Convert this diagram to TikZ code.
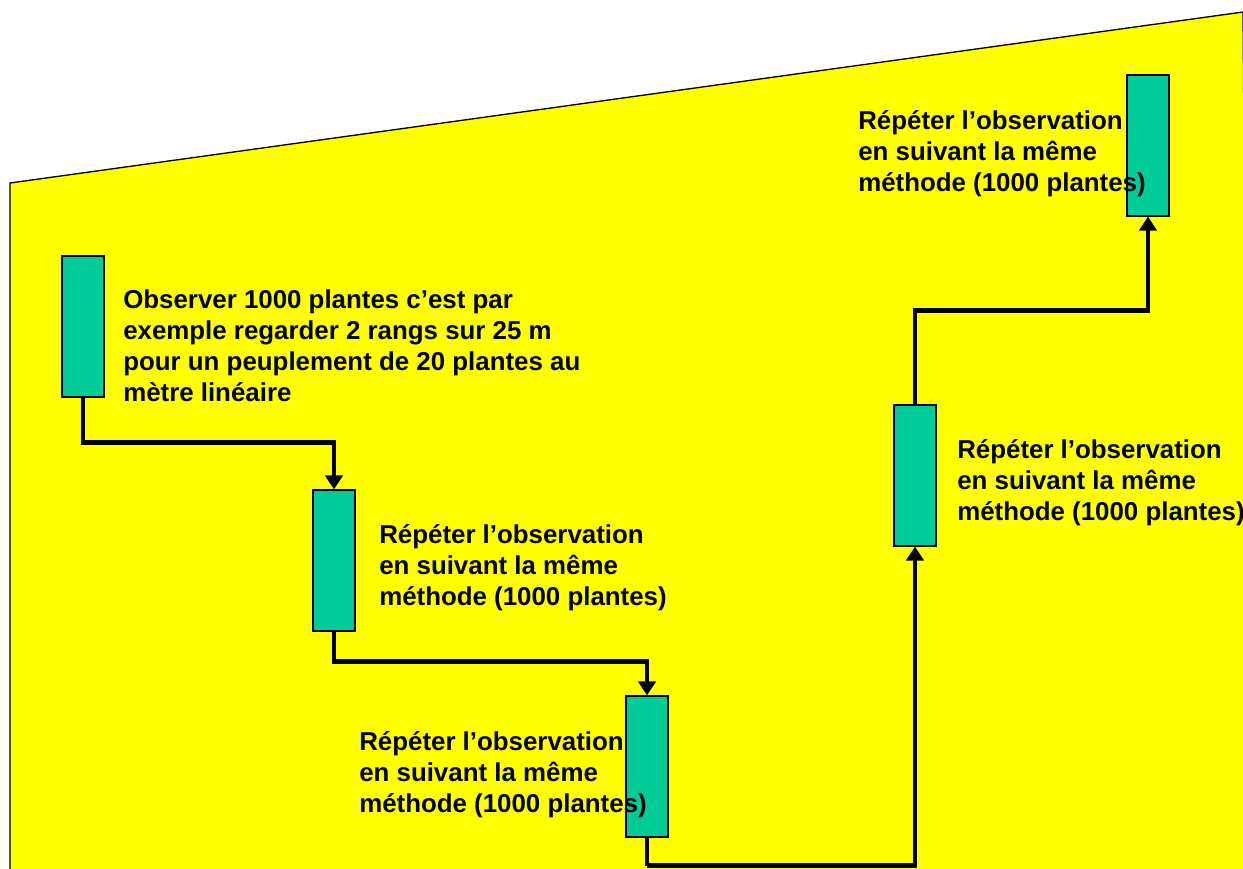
\documentclass[tikz,border=0pt]{standalone}
\usepackage{fontspec}
\setmainfont{Liberation Sans}
\usetikzlibrary{arrows.meta}
\definecolor{fondjaune}{RGB}{255,255,0}
\definecolor{vertbox}{RGB}{0,204,153}
\tikzset{
barre/.style={draw=black, line width=0.9pt, fill=vertbox, minimum width=31.5pt, minimum height=105.75pt, inner sep=0pt},
legende/.style={anchor=north west, inner sep=0pt, align=left, font=\bfseries\fontsize{19.4}{23.3}\selectfont},
fleche/.style={line width=3.4pt, -{Triangle[width=13pt,length=10.5pt]}},
lien/.style={line width=3.4pt}}

\begin{document}
\begin{tikzpicture}[x=0.75pt,y=0.75pt,yscale=-1,xscale=1]
\useasboundingbox (0,0) rectangle (1243,868);
\clip (0,0) rectangle (1243,868);

%Shape: Polygon (fond)
\draw [line width=1pt, fill=fondjaune] (10,183) -- (1243,12) -- (1250,880) -- (10,880) -- cycle ;

%Shape: Rectangles
\node [barre] (b1) at (83,326.5) {};
\node [barre] (b2) at (334,560.5) {};
\node [barre] (b3) at (647,766.5) {};
\node [barre] (b4) at (915,475.5) {};
\node [barre] (b5) at (1148,145.5) {};

%Connectors
\draw [fleche] (b1.south) -- ++(0,45) -| (b2.north) ;
\draw [fleche] (b2.south) -- ++(0,30) -| (b3.north) ;
\draw [lien] (b3.south) -- ++(0,28) coordinate (c3) ;
\draw [fleche] (c3) -| (b4.south) ;
\draw [fleche] (b4.north) -- ++(0,-94) -| (b5.south) ;

% Text Node
\node [legende] (t1) at (123,289) {Observer 1000 plantes c’est par\\exemple regarder 2 rangs sur 25 m\\pour un peuplement de 20 plantes au\\mètre linéaire};
% Text Node
\node [legende] (t2) at (379,524) {Répéter l’observation\\en suivant la même\\méthode (1000 plantes)};
% Text Node
\node [legende] (t3) at (359,731) {Répéter l’observation\\en suivant la même\\méthode (1000 plantes)};
% Text Node
\node [legende] (t4) at (957,439) {Répéter l’observation\\en suivant la même\\méthode (1000 plantes)};
% Text Node
\node [legende] (t5) at (858,110) {Répéter l’observation\\en suivant la même\\méthode (1000 plantes)};

\end{tikzpicture}
\end{document}
